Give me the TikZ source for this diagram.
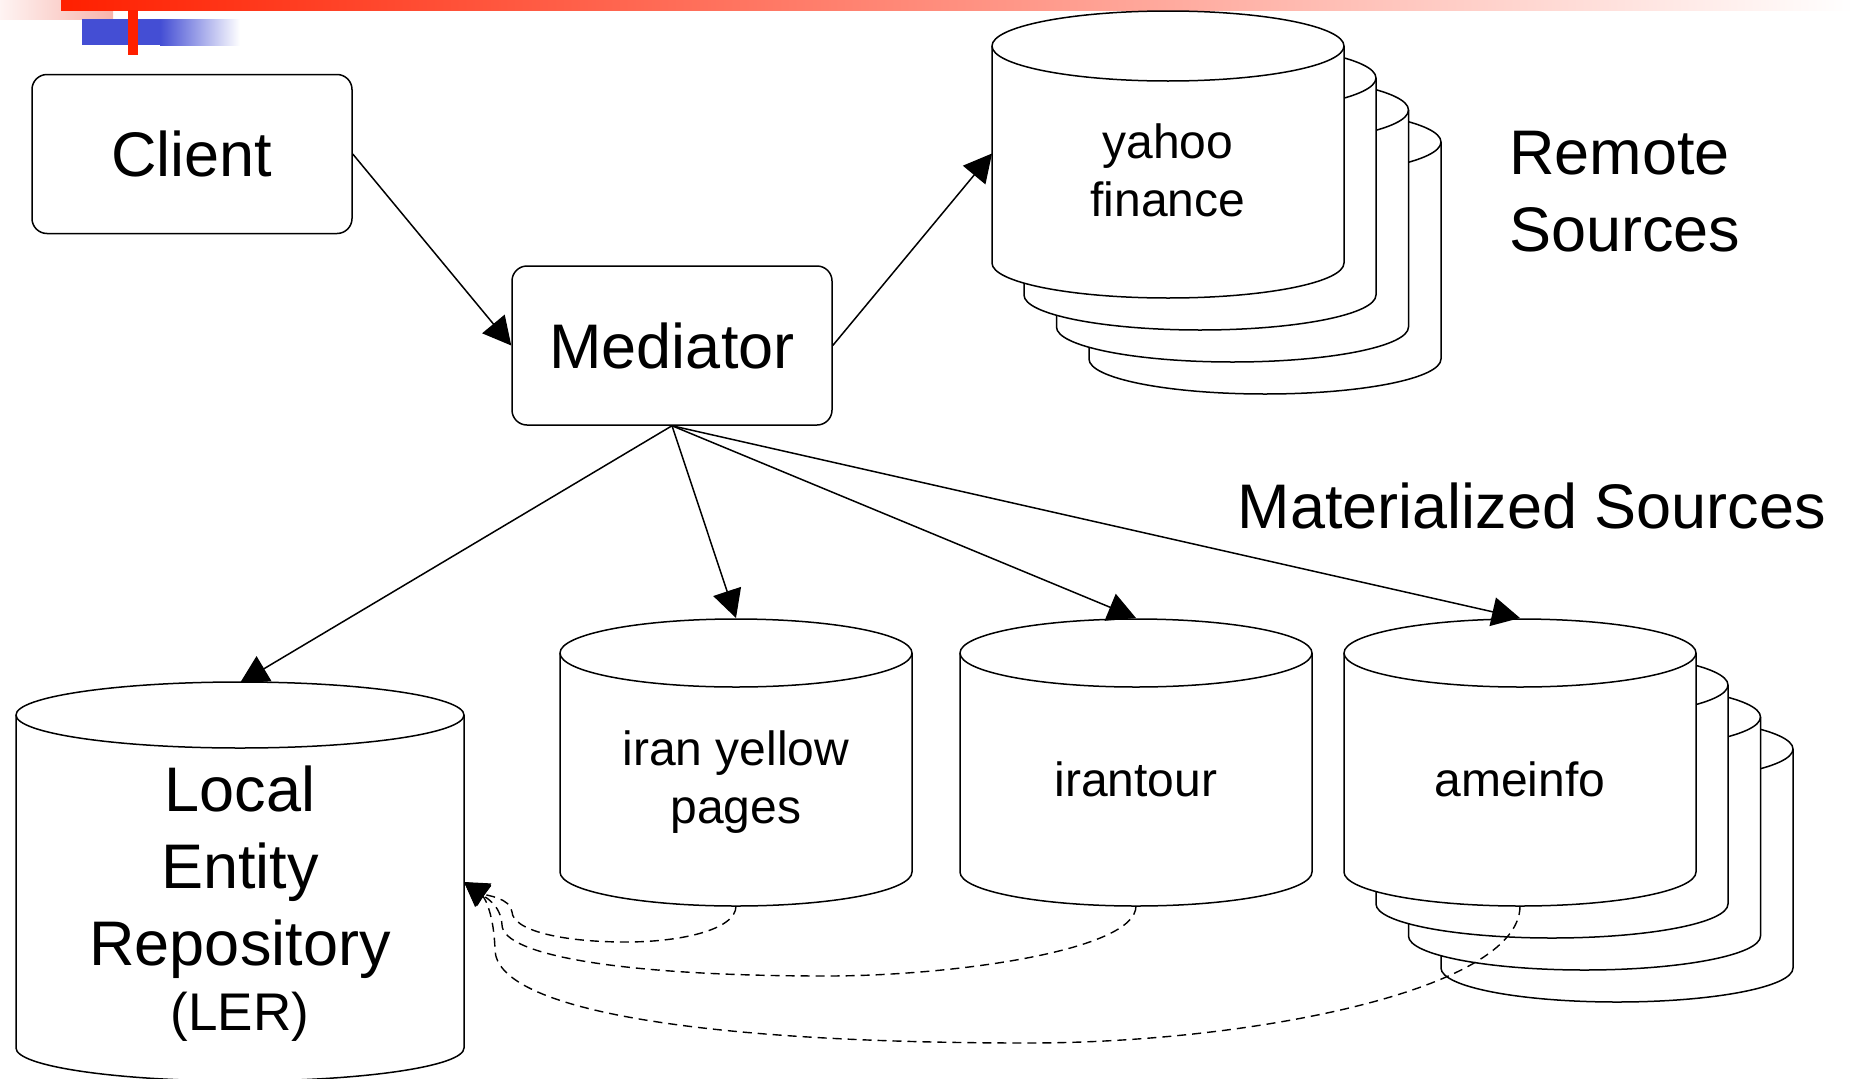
\documentclass[tikz,border=0pt]{standalone}
\usepackage{fontspec}
\setmainfont{Liberation Sans}
\usetikzlibrary{arrows.meta}
\definecolor{hdrred}{RGB}{255,32,0}
\definecolor{hdrblue}{RGB}{68,78,212}
\definecolor{hdrpink}{RGB}{248,180,172}
\tikzset{
  cylbody/.style={draw=black, fill=white, line width=1.5pt},
  cylline/.style={draw=black, line width=1.5pt},
  boxnode/.style={draw=black, line width=1.5pt, rounded corners=15pt, fill=white, minimum width=320pt, minimum height=159pt, inner sep=0pt},
  ghost/.style={inner sep=0pt, outer sep=0pt},
  bigtxt/.style={inner sep=0pt, font=\fontsize{63}{77}\selectfont},
  cyltxt/.style={inner sep=0pt, align=center, font=\fontsize{48}{58}\selectfont},
  conn/.style={line width=1.5pt, -{Triangle[length=28pt,width=29pt]}},
  dconn/.style={line width=1.4pt, dash pattern=on 9pt off 6pt, -{Triangle[length=24pt,width=26pt]}}
}
% cx, top-centre y, bottom-centre y, rx, ry
\newcommand\dbcyl[5]{%
  \path[cylbody] ({#1-#4},#2) -- ({#1-#4},#3) arc[start angle=180,end angle=360,x radius=#4pt,y radius=#5pt] -- ({#1+#4},#2) arc[start angle=0,end angle=180,x radius=#4pt,y radius=#5pt] -- cycle;
  \draw[cylline] ({#1-#4},#2) arc[start angle=180,end angle=360,x radius=#4pt,y radius=#5pt];
}
\begin{document}
\begin{tikzpicture}[x=1pt,y=-1pt]
\useasboundingbox (0,0) rectangle (1853,1079);
\fill[white] (0,0) rectangle (1853,1079);
% header decoration
\shade[left color=hdrpink!15!white, right color=hdrpink] (0,0) rectangle (113,19);
\shade[left color=hdrred, right color=white] (61,0) rectangle (1853,10);
\fill[hdrblue] (82,19) rectangle (160,45);
\shade[left color=hdrblue, right color=white] (160,19) rectangle (240,45);
\fill[hdrred] (128,10) rectangle (138,55);

% boxes
\node[boxnode] (client) at (192,154) {};
\node[bigtxt] (clientt) at (192,154) {Client};
\node[boxnode] (med) at (672,345.5) {};
\node[bigtxt] (medt) at (672,345.5) {Mediator};

% yahoo stack
\dbcyl{1265}{142}{359}{176}{35}
\dbcyl{1232.5}{110}{327}{176}{35}
\dbcyl{1200}{78}{295}{176}{35}
\dbcyl{1168}{46}{263}{176}{35}
\node[ghost, minimum width=352pt, minimum height=288pt] (yf) at (1168,153.5) {};
\node[cyltxt] (yft) at (1168,170.5) {yahoo\\finance};

% iran yellow pages, irantour
\dbcyl{736}{653}{872}{176}{34}
\node[ghost, minimum width=352pt, minimum height=288pt] (ypg) at (736,762) {};
\node[cyltxt] (ypgt) at (736,782) {iran yellow\\pages};
\dbcyl{1136}{653}{872}{176}{34}
\node[ghost, minimum width=352pt, minimum height=288pt] (irt) at (1136,762) {};
\node[cyltxt] (irtt) at (1136,779) {irantour};

% ameinfo stack
\dbcyl{1617}{749}{968}{176}{34}
\dbcyl{1584.5}{717}{936}{176}{34}
\dbcyl{1552}{685}{904}{176}{34}
\dbcyl{1520}{653}{872}{176}{34}
\node[ghost, minimum width=352pt, minimum height=288pt] (ame) at (1520,762) {};
\node[cyltxt] (amet) at (1520,779) {ameinfo};

% LER
\dbcyl{240}{715}{1048}{224}{33}
\node[ghost, minimum width=448pt, minimum height=398pt] (ler) at (240,882) {};
\node[bigtxt, align=center] (lert) at (240,904) {Local\\Entity\\Repository\\[-12pt]{\fontsize{53}{60}\selectfont (LER)}};

% free labels
\node[bigtxt, anchor=west, align=left] (remote) at (1509,192) {Remote\\Sources};
\node[bigtxt] (matsrc) at (1532,506) {Materialized Sources};

% connectors
\draw[conn] (client.east) -- (med.west);
\draw[conn] (med.east) -- (yf.west);
\draw[conn] (med.south) -- (ler.north);
\draw[conn] (med.south) -- (ypg.north);
\draw[conn] (med.south) -- (irt.north);
\draw[conn] (med.south) -- (ame.north);

% dashed feedback
\draw[dconn] (ypg.south) .. controls +(0,24) and (680,942) .. (626,942) .. controls (560,942) and (513,930) .. (512,912) .. controls (511,898) and (485,895) .. (ler.east);
\draw[dconn] (irt.south) .. controls +(0,45) and (950,976) .. (827,976) .. controls (620,976) and (503,955) .. (502,925) .. controls (501,905) and (485,897) .. (ler.east);
\draw[dconn] (ame.south) .. controls +(0,84) and (1250,1043) .. (1028,1043) .. controls (700,1043) and (497,1010) .. (495,950) .. controls (494,915) and (485,898) .. (ler.east);
\end{tikzpicture}
\end{document}
